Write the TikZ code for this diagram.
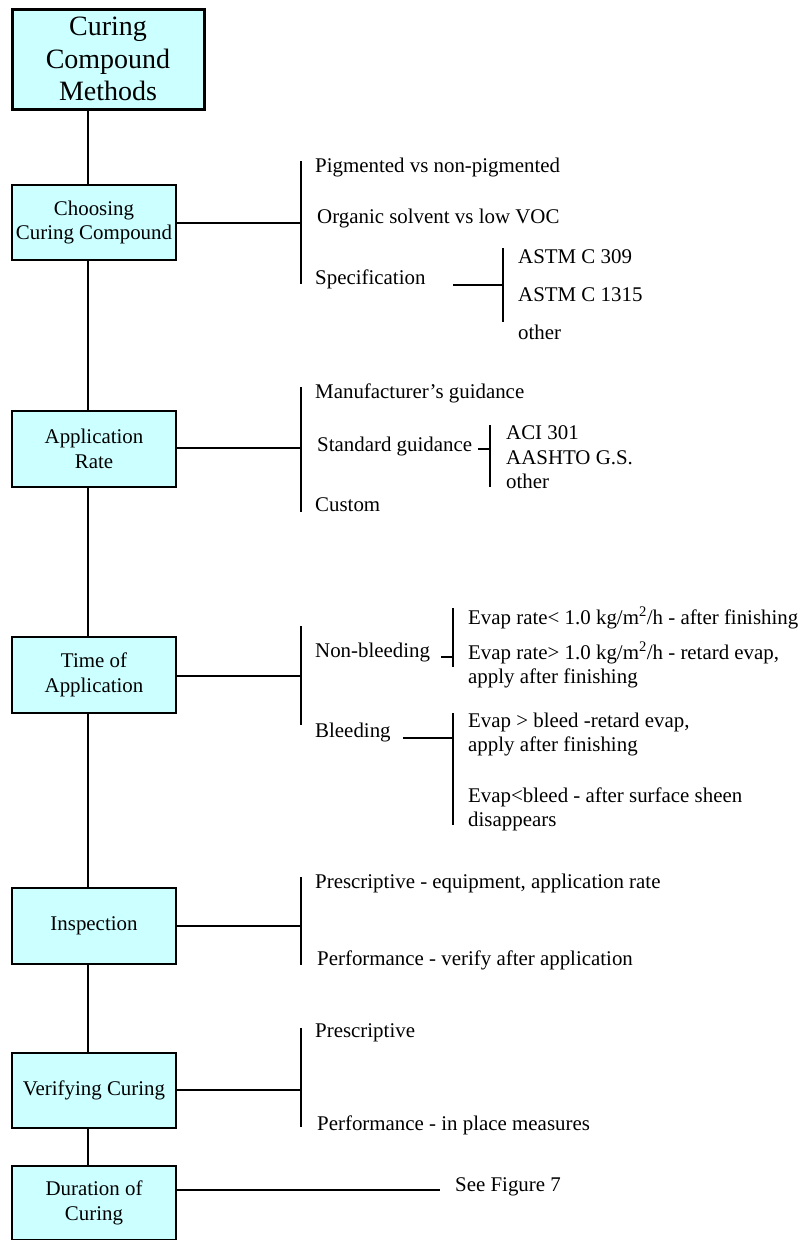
\documentclass[tikz,border=0pt]{standalone}
\usepackage{fontspec}
\setmainfont{Liberation Serif}
\definecolor{boxcyan}{HTML}{CCFFFF}
\newcommand\myfs{\fontsize{20.9}{24.5}\selectfont}
\newcommand\mytitlefs{\fontsize{28}{32.5}\selectfont}
\begin{document}
\begin{tikzpicture}[x=1pt,y=-1pt,
  stepbox/.style={draw, line width=2pt, fill=boxcyan, minimum width=164pt, minimum height=75pt, align=center, font=\myfs, inner sep=0pt},
  lbl/.style={anchor=west, inner sep=0pt, align=left, font=\myfs},
  conn/.style={line width=1.8pt}]
\useasboundingbox (0,0) rectangle (801,1240);

% main boxes
\node[stepbox, line width=3pt, minimum width=192pt, minimum height=100pt, font=\mytitlefs] (title) at (108,59) {Curing\\Compound\\Methods};
\node[stepbox] (choose) at (94,222.5) {Choosing\\Curing Compound};
\node[stepbox, minimum height=76pt] (apprate) at (94,449) {Application\\Rate};
\node[stepbox, minimum height=76pt] (timeapp) at (94,675) {Time of\\Application};
\node[stepbox, minimum height=76pt] (insp) at (94,926) {Inspection};
\node[stepbox] (verif) at (94,1090.5) {Verifying Curing};
\node[stepbox, minimum height=74pt] (dur) at (94,1203) {Duration of\\Curing};

% spine
\coordinate (spx) at (88,0);
\draw[conn] (spx |- title.south) -- (spx |- choose.north);
\draw[conn] (spx |- choose.south) -- (spx |- apprate.north);
\draw[conn] (spx |- apprate.south) -- (spx |- timeapp.north);
\draw[conn] (spx |- timeapp.south) -- (spx |- insp.north);
\draw[conn] (spx |- insp.south) -- (spx |- verif.north);
\draw[conn] (spx |- verif.south) -- (spx |- dur.north);

% ---- Choosing curing compound
\coordinate (b1t) at (301,161); \coordinate (b1b) at (301,284); \coordinate (b1m) at (301,223);
\draw[conn] (b1t) -- (b1b);
\draw[conn] (choose.east |- b1m) -- (b1m);
\node[lbl] (pig) at (315,167) {Pigmented vs non-pigmented};
\node[lbl] (org) at (317,218) {Organic solvent vs low VOC};
\node[lbl] (spec) at (315,279) {Specification};
\coordinate (s1a) at (453,285); \coordinate (s1b) at (503,285);
\coordinate (s1t) at (503,248); \coordinate (s1d) at (503,322);
\draw[conn] (s1a) -- (s1b);
\draw[conn] (s1t) -- (s1d);
\node[lbl] (astm1) at (518,257) {ASTM C 309};
\node[lbl] (astm2) at (518,295) {ASTM C 1315};
\node[lbl] (oth1) at (518,332) {other};

% ---- Application rate
\coordinate (b2t) at (301,387); \coordinate (b2b) at (301,512); \coordinate (b2m) at (301,448);
\draw[conn] (b2t) -- (b2b);
\draw[conn] (apprate.east |- b2m) -- (b2m);
\node[lbl] (manu) at (315,393) {Manufacturer’s guidance};
\node[lbl] (stdg) at (317,446) {Standard guidance};
\coordinate (s2a) at (478,449); \coordinate (s2b) at (490,449);
\coordinate (s2t) at (490,425); \coordinate (s2d) at (490,487);
\draw[conn] (s2a) -- (s2b);
\draw[conn] (s2t) -- (s2d);
\node[lbl] (aci) at (506,457.5) {ACI 301\\AASHTO G.S.\\other};
\node[lbl] (cust) at (315,505) {Custom};

% ---- Time of application
\coordinate (b3t) at (301,626); \coordinate (b3b) at (301,725); \coordinate (b3m) at (301,676);
\draw[conn] (b3t) -- (b3b);
\draw[conn] (timeapp.east |- b3m) -- (b3m);
\node[lbl] (nonb) at (315,652) {Non-bleeding};
\coordinate (s3a) at (441,657); \coordinate (s3b) at (453,657);
\coordinate (s3t) at (453,608); \coordinate (s3d) at (453,667);
\draw[conn] (s3a) -- (s3b);
\draw[conn] (s3t) -- (s3d);
\node[lbl] (ev1) at (468,618) {Evap rate< 1.0 kg/m\textsuperscript{2}/h - after finishing};
\node[lbl] (ev2) at (468,665) {Evap rate> 1.0 kg/m\textsuperscript{2}/h - retard evap,\\apply after finishing};
\node[lbl] (bleed) at (315,732) {Bleeding};
\coordinate (s4a) at (403,738); \coordinate (s4b) at (453,738);
\coordinate (s4t) at (453,713); \coordinate (s4d) at (453,825);
\draw[conn] (s4a) -- (s4b);
\draw[conn] (s4t) -- (s4d);
\node[lbl] (ev3) at (468,734.5) {Evap > bleed -retard evap,\\apply after finishing};
\node[lbl] (ev4) at (468,809.5) {Evap<bleed - after surface sheen\\disappears};

% ---- Inspection
\coordinate (b4t) at (301,877); \coordinate (b4b) at (301,965); \coordinate (b4m) at (301,926);
\draw[conn] (b4t) -- (b4b);
\draw[conn] (insp.east |- b4m) -- (b4m);
\node[lbl] (presc1) at (315,883) {Prescriptive - equipment, application rate};
\node[lbl] (perf1) at (317,960) {Performance - verify after application};

% ---- Verifying curing
\coordinate (b5t) at (301,1028); \coordinate (b5b) at (301,1127); \coordinate (b5m) at (301,1090);
\draw[conn] (b5t) -- (b5b);
\draw[conn] (verif.east |- b5m) -- (b5m);
\node[lbl] (presc2) at (315,1033) {Prescriptive};
\node[lbl] (perf2) at (317,1125) {Performance - in place measures};

% ---- Duration
\coordinate (sf) at (440,1190);
\draw[conn] (dur.east |- sf) -- (sf);
\node[lbl] (seefig) at (455,1187) {See Figure 7};
\end{tikzpicture}
\end{document}
